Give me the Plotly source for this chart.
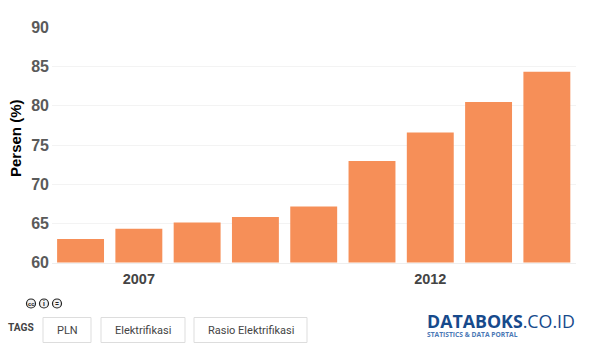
import plotly.graph_objects as go

years = [2006, 2007, 2008, 2009, 2010, 2011, 2012, 2013, 2014]
rasio = [63.0, 64.3, 65.1, 65.8, 67.15, 72.95, 76.6, 80.5, 84.35]
y_ticks = [60, 65, 70, 75, 80, 85, 90]
x_ticks = [2007, 2012]
tags = ["PLN", "Elektrifikasi", "Rasio Elektrifikasi"]
tag_boxes = [(43, 91), (101, 185), (194, 307)]

W, H = 600, 357
px = lambda v: v / W
py = lambda v: 1 - v / H

fig = go.Figure(go.Bar(
    x=years, y=rasio, width=0.805,
    marker=dict(color="#F68F58", line=dict(width=0)),
    hoverinfo="skip",
))

annotations = []
shapes = []

def text(x, y, s, size, color, bold=False, family="Roboto", anchor="center", angle=0):
    annotations.append(dict(
        x=px(x), y=py(y), xref="paper", yref="paper", showarrow=False,
        text=f"<b>{s}</b>" if bold else s, xanchor=anchor, yanchor="middle",
        font=dict(size=size, color=color, family=family), textangle=angle,
    ))

text(16, 138, "Persen (%)", 15, "#000000", True, "Liberation Sans", angle=-90)
text(6, 327, "TAGS", 10.2, "#444444", True, "Roboto", anchor="left")

for label, (x0, x1) in zip(tags, tag_boxes):
    shapes.append(dict(type="rect", xref="paper", yref="paper", x0=px(x0), x1=px(x1),
                       y0=py(317.5), y1=py(342.5), line=dict(color="#DDDDDD", width=1),
                       fillcolor="#FFFFFF"))
    text((x0 + x1) / 2, 330, label, 11, "#444444")

for cx in (31, 44, 57):
    shapes.append(dict(type="circle", xref="paper", yref="paper", x0=px(cx - 4.5), x1=px(cx + 4.5),
                       y0=py(303.5 + 4.5), y1=py(303.5 - 4.5),
                       line=dict(color="#222222", width=1.2), fillcolor="#F2F2F2"))
text(31, 303.5, "cc", 6, "#222222", True)
text(44, 303.5, "i", 7, "#222222", True)
text(57, 303.5, "=", 7, "#222222", True)

annotations.append(dict(
    x=px(424.5), y=py(320.5), xref="paper", yref="paper", showarrow=False, xanchor="left", yanchor="middle",
    text='<b>DATABOKS</b>.CO.ID', font=dict(size=17.8, color="#174A8C", family="Open Sans"),
))
text(425.5, 334, "STATISTICS &amp; DATA PORTAL", 6.7, "#4A78B5", True, "Open Sans", anchor="left")

fig.update_layout(
    width=W, height=H, autosize=False,
    margin=dict(l=0, r=0, t=0, b=0),
    paper_bgcolor="#FFFFFF", plot_bgcolor="#FFFFFF",
    showlegend=False,
    annotations=annotations, shapes=shapes,
    xaxis=dict(
        domain=[px(52), px(576)], range=[2005.51, 2014.5],
        tickmode="array", tickvals=x_ticks, ticktext=[f"<b>{t}</b>" for t in x_ticks],
        tickfont=dict(size=14.5, color="#444444", family="Liberation Sans"),
        showgrid=False, zeroline=False, showline=True, linecolor="#EEEEEE", linewidth=1,
        ticks="outside", ticklen=3, tickcolor="rgba(0,0,0,0)", automargin=False,
    ),
    yaxis=dict(
        domain=[py(262.5), py(27.5)], range=[60, 90],
        tickmode="array", tickvals=y_ticks, ticktext=[f"<b>{t}</b>" for t in y_ticks],
        tickfont=dict(size=16, color="#5A5A5A", family="Liberation Sans"),
        showgrid=True, gridcolor="#F3F3F3", gridwidth=1, zeroline=False,
        ticks="", ticklen=0, automargin=False, ticklabelstandoff=2,
    ),
)

fig.write_html("out.html", config=dict(displayModeBar=False),
               post_script="document.body.style.margin='0';")
